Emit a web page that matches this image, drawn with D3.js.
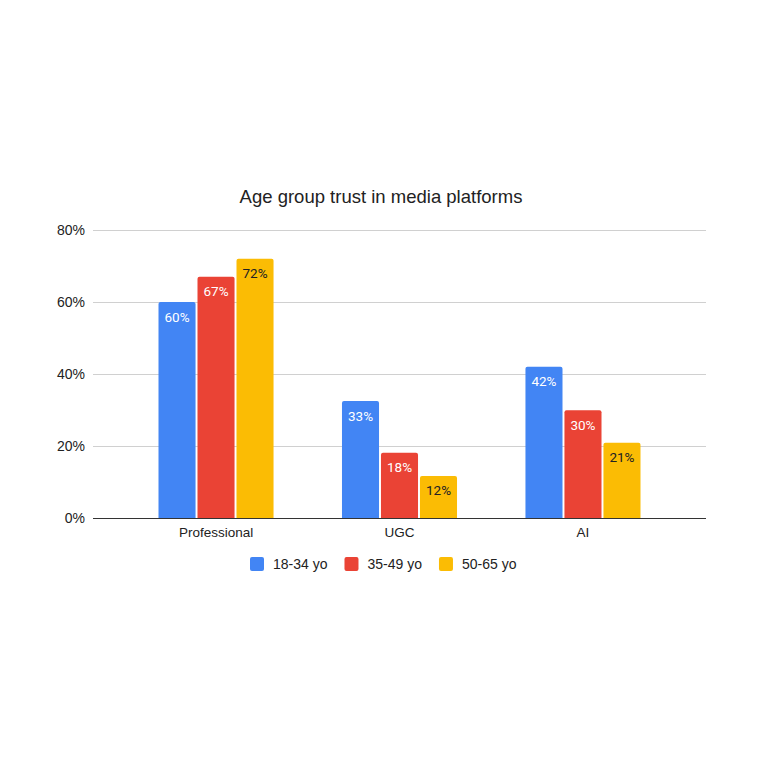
<!DOCTYPE html>
<html>
<head>
<meta charset="utf-8">
<script src="https://cdn.jsdelivr.net/npm/d3@7"></script>
<style>
  body { margin: 0; background: #fff; }
  svg { display: block; }
</style>
</head>
<body>
<div id="chart"></div>
<script>
// chart data
const categories = ["Professional", "UGC", "AI"];
const groups = ["18-34 yo", "35-49 yo", "50-65 yo"];
const values = {
  "18-34 yo": [60, 32.5, 42],
  "35-49 yo": [67, 18.1, 29.9],
  "50-65 yo": [72, 11.7, 20.9]
};
const yTicks = [0, 20, 40, 60, 80];
const colors = ["#4285F4", "#EA4335", "#FBBC04"];
const labelColors = ["#ffffff", "#ffffff", "#202124"];

const width = 760, height = 760;
const margin = { top: 230, right: 54, bottom: 242, left: 93 };

const svg = d3.select("#chart").append("svg")
  .attr("width", width)
  .attr("height", height);

const x = d3.scaleBand()
  .domain(categories)
  .range([margin.left, width - margin.right])
  .paddingInner(0.373)
  .paddingOuter(0.357);

const xSub = d3.scaleBand()
  .domain(groups)
  .range([0, x.bandwidth()])
  .paddingInner(0.05);

const y = d3.scaleLinear()
  .domain([0, 80])
  .range([height - margin.bottom, margin.top]);

const color = d3.scaleOrdinal().domain(groups).range(colors);
const labelColor = d3.scaleOrdinal().domain(groups).range(labelColors);

// title
svg.append("text")
  .attr("x", 381)
  .attr("y", 203)
  .attr("text-anchor", "middle")
  .attr("font-family", "Liberation Sans, Arial, sans-serif")
  .attr("font-size", 18.5)
  .attr("fill", "#222")
  .text("Age group trust in media platforms");

// gridlines + y labels
const yAxis = svg.append("g")
  .attr("transform", `translate(${margin.left},0)`)
  .call(d3.axisLeft(y).tickValues(yTicks)
    .tickSize(-(width - margin.left - margin.right))
    .tickPadding(8)
    .tickFormat(d => d + "%"));
yAxis.select(".domain").remove();
yAxis.selectAll(".tick line")
  .attr("stroke", d => d === 0 ? "#333" : "#d0d0d0")
  .attr("stroke-width", 1);
yAxis.selectAll(".tick text")
  .attr("font-family", "Liberation Sans, Arial, sans-serif")
  .attr("font-size", 14)
  .attr("fill", "#222");

// bars
const rows = [];
groups.forEach(g => {
  categories.forEach((c, i) => rows.push({ cat: c, group: g, value: values[g][i] }));
});

function topRounded(x0, y0, w, h, r) {
  return `M${x0},${y0 + h}V${y0 + r}Q${x0},${y0} ${x0 + r},${y0}` +
    `H${x0 + w - r}Q${x0 + w},${y0} ${x0 + w},${y0 + r}V${y0 + h}Z`;
}

svg.append("g").selectAll("path")
  .data(rows)
  .join("path")
  .attr("fill", d => color(d.group))
  .attr("d", d => {
    const bx = x(d.cat) + xSub(d.group);
    const by = y(d.value);
    return topRounded(bx, by, xSub.bandwidth(), y(0) - by, 2);
  });

// data labels
svg.append("g").selectAll("text")
  .data(rows)
  .join("text")
  .attr("x", d => x(d.cat) + xSub(d.group) + xSub.bandwidth() / 2)
  .attr("y", d => y(d.value) + 19.5)
  .attr("text-anchor", "middle")
  .attr("font-family", "Roboto, sans-serif")
  .attr("font-size", 13.5)
  .attr("fill", d => labelColor(d.group))
  .text(d => Math.round(d.value) + "%");

// x labels
const xAxis = svg.append("g")
  .attr("transform", `translate(0,${y(0)})`)
  .call(d3.axisBottom(x).tickSize(0).tickPadding(9));
xAxis.select(".domain").remove();
xAxis.selectAll(".tick text")
  .attr("font-family", "Liberation Sans, Arial, sans-serif")
  .attr("font-size", 13.5)
  .attr("fill", "#222");

// legend
const legend = svg.append("g");
let lx = 250;
groups.forEach(g => {
  const item = legend.append("g").attr("transform", `translate(${lx},557)`);
  item.append("rect")
    .attr("width", 14).attr("height", 14).attr("rx", 2)
    .attr("fill", color(g));
  const t = item.append("text")
    .attr("x", 23).attr("y", 12)
    .attr("font-family", "Liberation Sans, Arial, sans-serif")
    .attr("font-size", 14)
    .attr("fill", "#222")
    .text(g);
  lx += 23 + t.node().getComputedTextLength() + 17;
});
</script>
</body>
</html>
